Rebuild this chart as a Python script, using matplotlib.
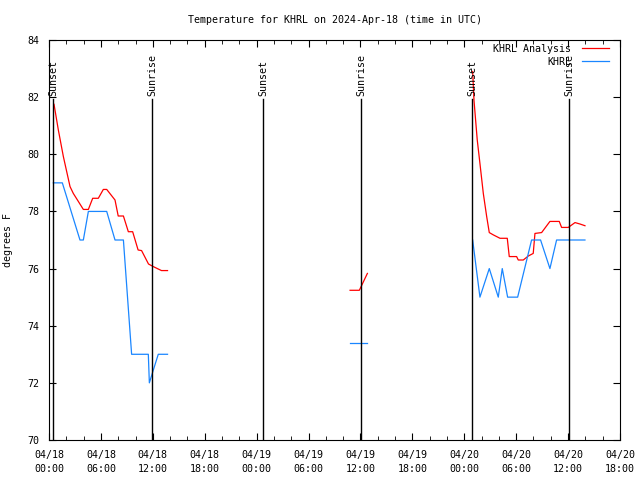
import matplotlib
matplotlib.use('Agg')
import matplotlib.pyplot as plt
import numpy as np
from matplotlib.ticker import MultipleLocator

# hours since 2024-04-18 00:00 UTC
analysis_hours = [
    [0.58, 1.08, 1.66, 2.43, 2.81, 3.97, 4.55, 5.05, 5.7, 6.28, 6.67, 7.63, 8.0, 8.6,
     9.17, 9.67, 10.3, 10.7, 11.5, 12.05, 13.0, 13.7],
    [34.8, 35.87, 36.8],
    [48.97, 49.12, 49.5, 49.81, 50.2, 50.59, 50.89, 51.35, 52.13, 52.97, 53.2, 54.05,
     54.24, 54.82, 55.4, 55.97, 56.17, 56.94, 57.9, 58.98, 59.25, 60.02, 60.8, 61.37, 61.95],
]
analysis_temps = [
    [81.75, 80.85, 79.92, 78.87, 78.63, 78.07, 78.07, 78.46, 78.46, 78.77, 78.77, 78.4,
     77.84, 77.84, 77.29, 77.29, 76.65, 76.63, 76.16, 76.07, 75.93, 75.93],
    [75.24, 75.24, 75.83],
    [82.9, 81.9, 80.5, 79.68, 78.63, 77.82, 77.26, 77.18, 77.06, 77.06, 76.42, 76.42,
     76.3, 76.3, 76.44, 76.53, 77.23, 77.26, 77.65, 77.65, 77.44, 77.44, 77.61, 77.56, 77.5],
]

obs_hours = [
    [0.5, 1.54, 3.58, 3.97, 4.55, 6.67, 7.63, 8.6, 9.55, 11.48, 11.6, 12.06, 12.63, 13.7],
    [34.8, 36.8],
    [48.97, 49.81, 50.89, 51.93, 52.39, 53.01, 54.17, 55.78, 56.82, 57.9, 58.67, 61.95],
]
obs_temps = [
    [79, 79, 77, 77, 78, 78, 77, 77, 73, 73, 72, 72.45, 73, 73],
    [73.4, 73.4],
    [77, 75, 76, 75, 76, 75, 75, 77, 77, 76, 77, 77],
]

sunset_hours = [0.45, 24.75, 48.9]
sunrise_hours = [11.9, 36.1, 60.1]

days = ['04/18', '04/19', '04/20']
x_ticks = list(range(0, 67, 6))
x_labels = ['%s\n%02d:00' % (days[h // 24], h % 24) for h in x_ticks]
y_ticks = list(range(70, 85, 2))

fig = plt.figure(figsize=(6.4, 4.8), dpi=100)
ax = fig.add_axes([49/640, 40/480, 571/640, 400/480])
font = 'DejaVu Sans Mono'
fs = 7.2

for i, (h, t) in enumerate(zip(analysis_hours, analysis_temps)):
    ax.plot(h, t, color='#ff0000', lw=0.9, label='KHRL Analysis' if i == 0 else None)
for i, (h, t) in enumerate(zip(obs_hours, obs_temps)):
    ax.plot(h, t, color='#1a86ff', lw=0.9, label='KHRL' if i == 0 else None)

for name, hrs in [('Sunset', sunset_hours), ('Sunrise', sunrise_hours)]:
    for h in hrs:
        ax.plot([h, h], [70, 81.93], color='black', lw=1)
        ax.text(h, 82.05, name, rotation=90, ha='center', va='bottom',
                fontsize=fs, family=font)

ax.set_xlim(0, 66)
ax.set_ylim(70, 84)
ax.set_xticks(x_ticks)
ax.set_xticklabels(x_labels, family=font, fontsize=fs, linespacing=1.5)
ax.xaxis.set_minor_locator(MultipleLocator(2))
ax.set_yticks(y_ticks)
ax.set_yticklabels([str(v) for v in y_ticks], family=font, fontsize=fs)
ax.tick_params(which='both', direction='in', top=True, right=True, pad=7)
ax.tick_params(which='major', length=5)
ax.tick_params(which='minor', length=3)
for s in ax.spines.values():
    s.set_linewidth(0.8)

ax.set_ylabel('degrees F', fontsize=fs, family=font, labelpad=10)
ax.set_title('Temperature for KHRL on 2024-Apr-18 (time in UTC)', fontsize=fs,
             family=font, pad=12)

leg = ax.legend(loc='upper right', bbox_to_anchor=(0.9877, 1.0), borderaxespad=0,
                frameon=False, prop={'family': font, 'size': fs},
                markerfirst=False, handlelength=2.7, labelspacing=0.3,
                handletextpad=1.1)
for t in leg.get_texts():
    t.set_ha('right')

fig.savefig('out.png', dpi=100)
